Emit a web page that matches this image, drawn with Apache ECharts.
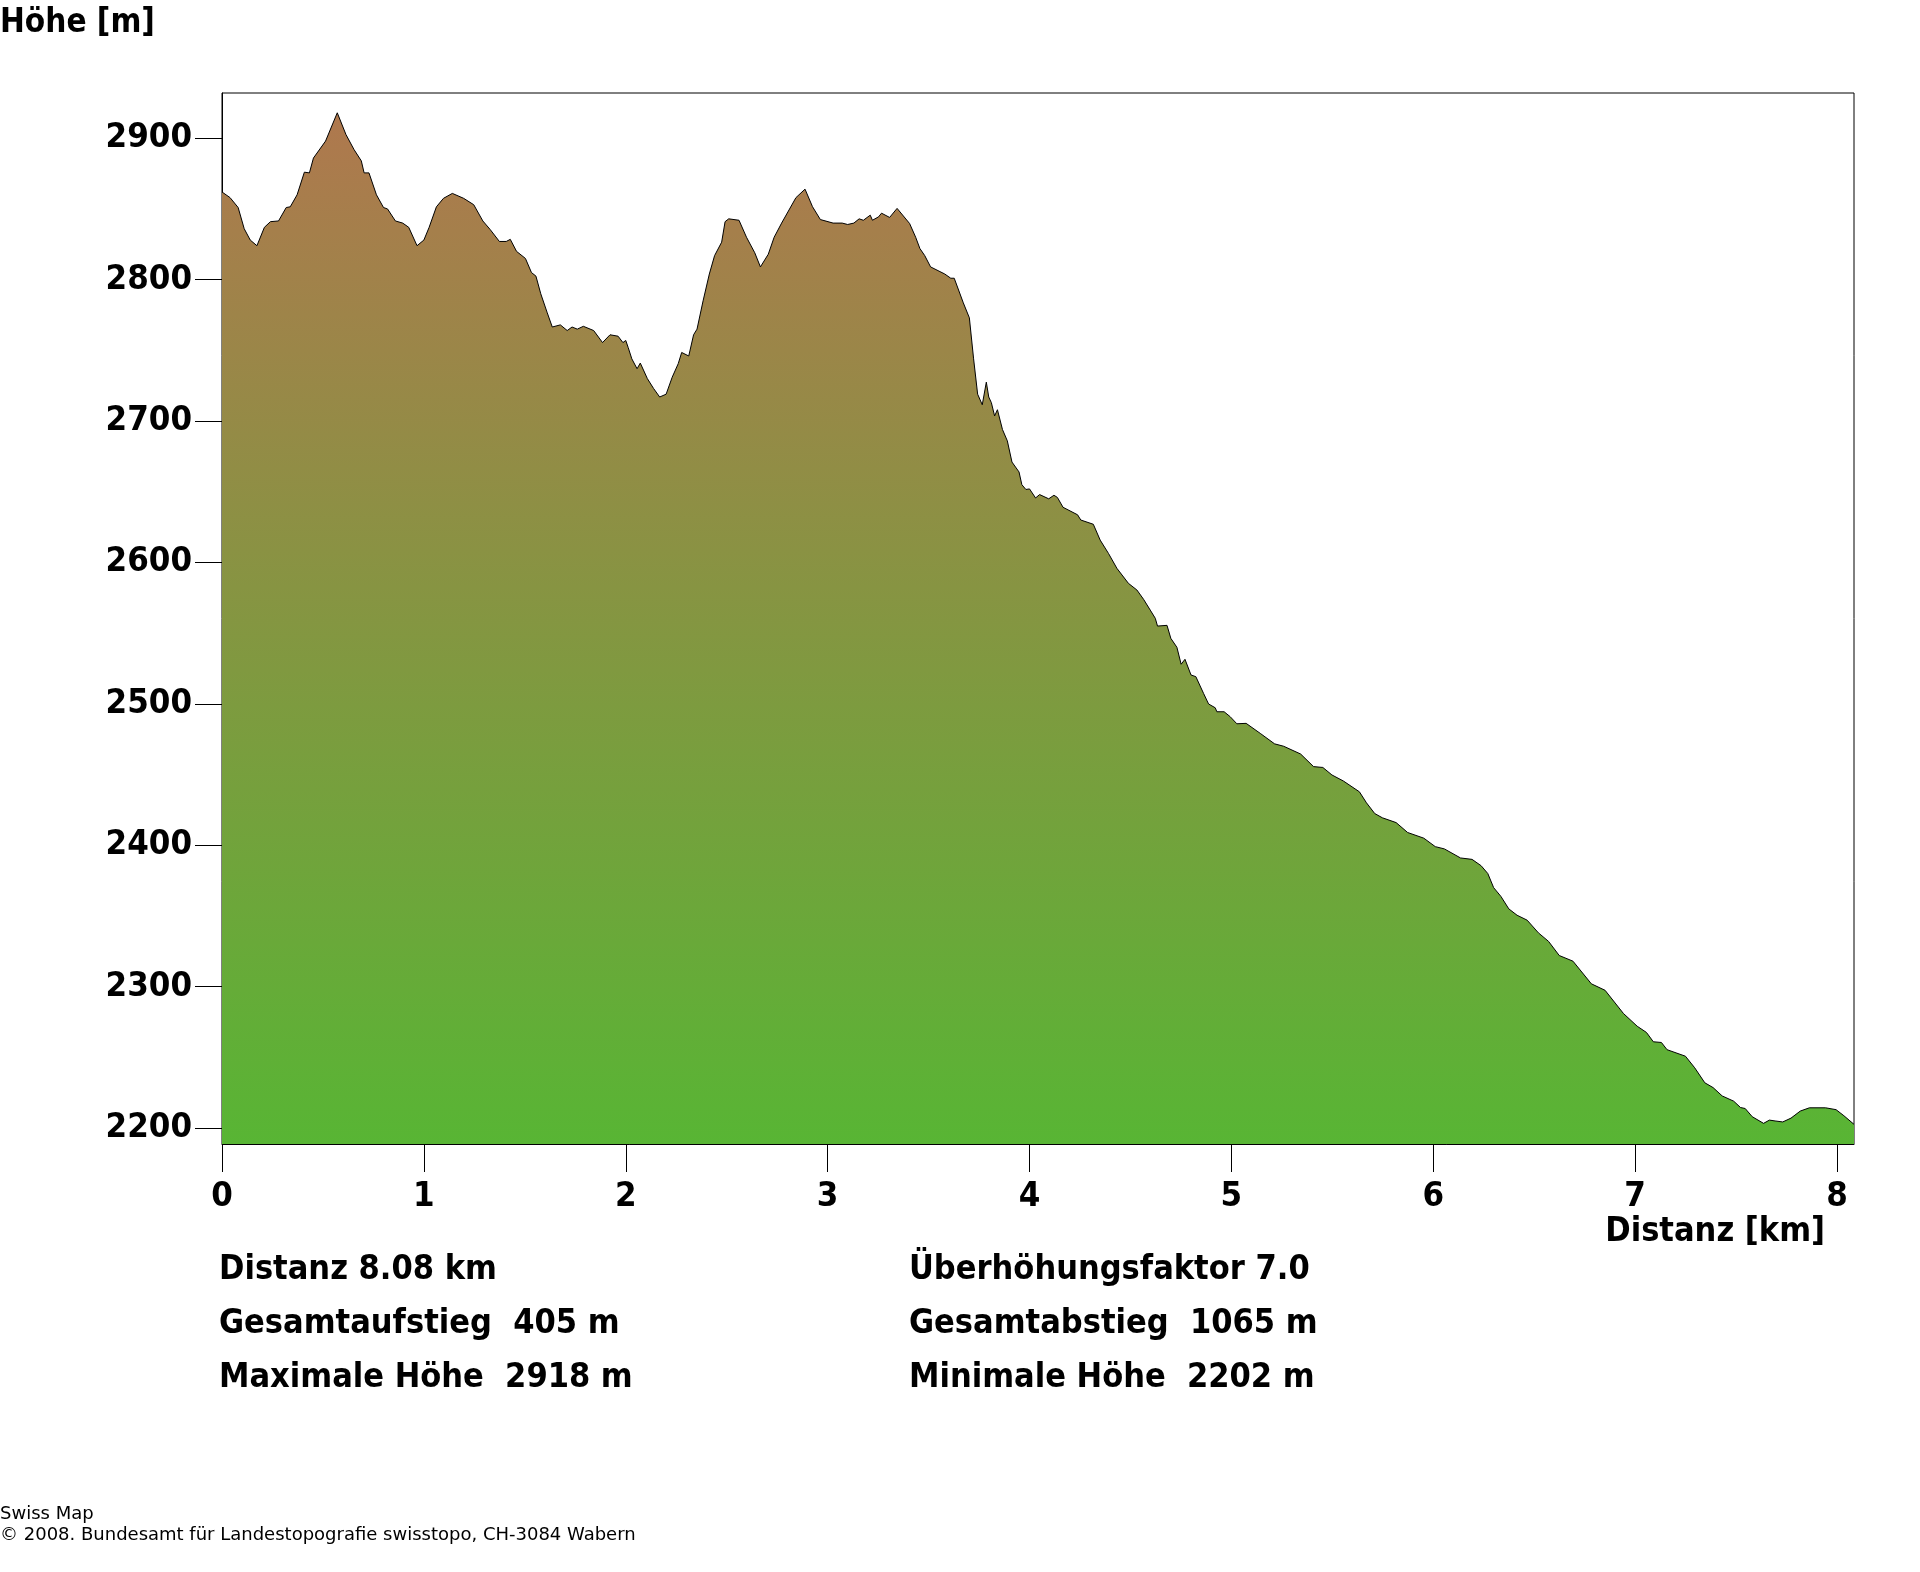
<!DOCTYPE html>
<html><head><meta charset="utf-8">
<style>html,body{margin:0;padding:0;background:#fff}#c{width:1920px;height:1572px}</style>
<script src="https://cdn.jsdelivr.net/npm/echarts@6/dist/echarts.min.js"></script></head>
<body><div id="c"></div>
<script>
const distanceKm = [0,.04,.08,.11,.14,.173,.21,.24,.28,.318,.338,.372,.408,.433,.453,.513,.571,.614,.654,.69,.704,.728,.765,.8,.82,.859,.895,.925,.966,1,1.026,1.062,1.097,1.141,1.197,1.247,1.292,1.328,1.374,1.408,1.428,1.459,1.503,1.533,1.555,1.579,1.61,1.636,1.676,1.71,1.734,1.76,1.79,1.841,1.885,1.922,1.962,1.986,2,2.012,2.03,2.056,2.072,2.107,2.138,2.168,2.2,2.23,2.26,2.277,2.312,2.336,2.353,2.383,2.414,2.44,2.475,2.492,2.51,2.561,2.598,2.639,2.667,2.706,2.735,2.772,2.843,2.888,2.925,2.964,3.027,3.072,3.099,3.13,3.156,3.177,3.211,3.222,3.252,3.267,3.307,3.344,3.406,3.436,3.457,3.481,3.51,3.58,3.61,3.627,3.672,3.702,3.723,3.743,3.766,3.786,3.798,3.811,3.827,3.841,3.866,3.89,3.913,3.948,3.962,3.982,4,4.03,4.05,4.095,4.121,4.138,4.166,4.238,4.254,4.316,4.35,4.391,4.433,4.49,4.532,4.565,4.598,4.623,4.634,4.681,4.7,4.73,4.751,4.77,4.8,4.824,4.862,4.887,4.92,4.928,4.964,4.994,5.027,5.073,5.143,5.214,5.259,5.343,5.407,5.453,5.498,5.555,5.634,5.669,5.71,5.748,5.816,5.873,5.953,6.01,6.055,6.135,6.192,6.237,6.27,6.299,6.335,6.374,6.415,6.465,6.521,6.571,6.624,6.692,6.783,6.851,6.942,7.01,7.056,7.09,7.13,7.158,7.249,7.295,7.345,7.386,7.431,7.488,7.522,7.545,7.58,7.636,7.665,7.693,7.731,7.772,7.818,7.863,7.943,7.995,8.034,8.084];
const elevationM = [2862,2858,2851,2836,2828,2824,2837,2841,2841.5,2851,2851.5,2860,2876,2875.5,2886,2898,2918,2902.6,2892,2884,2875.5,2875.5,2860,2851,2850,2841.5,2840,2837,2824,2828,2837,2851.5,2857.5,2861,2857.5,2853,2841.5,2835.5,2827,2827,2828.5,2820,2815,2805,2802.5,2790,2777,2766.5,2768,2764,2766.5,2765,2767,2764,2755.5,2761,2760,2755.5,2757,2752,2744,2737,2741,2730,2723,2717,2719,2731,2740.6,2748.5,2746,2761,2765,2785,2804,2817,2826.5,2841,2843,2842,2830,2819,2809,2818,2830,2840,2858,2864,2851.6,2842.5,2840,2840,2839,2840,2843,2842,2845.6,2842,2844.4,2847,2844,2850.4,2839.7,2830,2822,2817,2809,2804,2801,2801,2783.6,2773,2744,2719,2711.5,2727.5,2717,2713,2703.6,2708,2694,2686,2671,2664,2655,2651.6,2652,2645.6,2648,2645,2647.5,2646,2639,2633.7,2630,2627,2615.8,2606.4,2595.8,2585.2,2580.5,2573.9,2566.3,2560.5,2555,2555.5,2546.3,2540,2528,2531.5,2520.4,2519.2,2507.4,2499.9,2497.2,2494.4,2494.4,2490.9,2485.9,2486.2,2479.1,2471.7,2470,2464.5,2455.6,2455,2449.7,2445.4,2437.8,2430,2422.4,2419.4,2416,2409,2405,2399,2397.4,2391,2390,2385.5,2380,2370,2363.8,2355,2350.5,2347,2338,2332,2322,2318,2302,2297.4,2281,2272,2267.6,2261,2260.5,2255.4,2250.8,2242.6,2232,2228.6,2222.7,2219,2214.5,2213.8,2208,2203.3,2205.6,2205,2204.3,2207,2212,2214.3,2214.3,2213,2208.7,2202.6];
const xTicks = [0,1,2,3,4,5,6,7,8];
const yTicks = [2200,2300,2400,2500,2600,2700,2800,2900];
const xLimits = [0, 8.084];
const yLimits = [2188.7, 2932];
const yAxisTitle = 'Höhe [m]';
const xAxisTitle = 'Distanz [km]';
const statsLeft = ['Distanz 8.08 km','Gesamtaufstieg  405 m','Maximale Höhe  2918 m'];
const statsRight = ['Überhöhungsfaktor 7.0','Gesamtabstieg  1065 m','Minimale Höhe  2202 m'];
const credits = ['Swiss Map','© 2008. Bundesamt für Landestopografie swisstopo, CH-3084 Wabern'];

const boldFont = 'bold 34px "DejaVu Sans Condensed"';
const smallFont = '18px "DejaVu Sans"';
const txt = (text, x, y, font, align) => ({type:'text', silent:true, style:{text, x, y, font, fill:'#000', textAlign:align||'left', textVerticalAlign:'middle'}});
const statRows = [1270,1324,1378];
const chart = echarts.init(document.getElementById('c'), null, {width:1920, height:1572});
chart.setOption({
  animation:false,
  backgroundColor:'#fff',
  grid:{left:222, top:93, width:1632, height:1051, show:true, borderColor:'#000', borderWidth:1, containLabel:false},
  xAxis:{type:'value', min:xLimits[0], max:xLimits[1], splitLine:{show:false},
    axisLine:{show:true, onZero:false, lineStyle:{color:'#000', width:1}},
    axisTick:{show:true, length:28, customValues:xTicks, lineStyle:{color:'#000', width:1}},
    axisLabel:{show:true, customValues:xTicks, formatter:v=>String(v), margin:36, color:'#000', fontFamily:'DejaVu Sans Condensed', fontWeight:'bold', fontSize:34.5}},
  yAxis:{type:'value', min:yLimits[0], max:yLimits[1], splitLine:{show:false},
    axisLine:{show:true, onZero:false, lineStyle:{color:'#000', width:1}},
    axisTick:{show:true, length:27, customValues:yTicks, lineStyle:{color:'#000', width:1}},
    axisLabel:{show:true, customValues:yTicks, formatter:v=>String(v), margin:30, color:'#000', fontFamily:'DejaVu Sans Condensed', fontWeight:'bold', fontSize:34.5}},
  series:[{type:'line', data:distanceKm.map((d,i)=>[d,elevationM[i]]), showSymbol:false, smooth:false, clip:true,
    lineStyle:{color:'#000', width:1},
    areaStyle:{opacity:1, origin:'start', color:new echarts.graphic.LinearGradient(0,0,0,1,[{offset:0,color:'#AF784E'},{offset:1,color:'#58B534'}])}}],
  graphic:{elements:[
    txt(yAxisTitle,0,23,'bold 33px "DejaVu Sans Condensed"'),
    txt(xAxisTitle,1825,1232,boldFont,'right'),
    ...statsLeft.map((s,i)=>txt(s,219,statRows[i],boldFont)),
    ...statsRight.map((s,i)=>txt(s,909,statRows[i],boldFont)),
    txt(credits[0],0,1514,smallFont),
    txt(credits[1],0,1535,smallFont)
  ]}
});
</script></body></html>
